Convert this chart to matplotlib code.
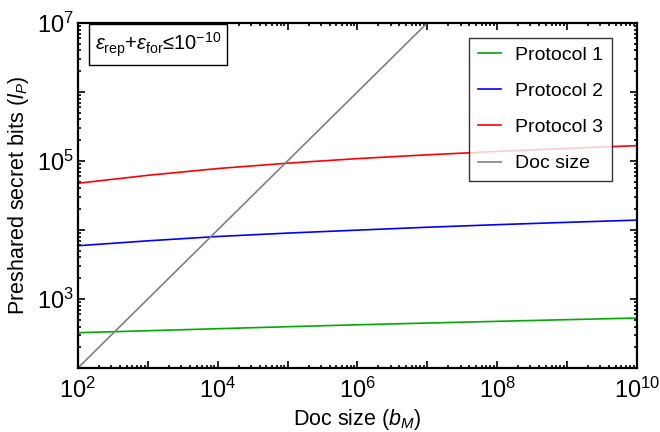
import matplotlib
matplotlib.use("Agg")
import matplotlib.pyplot as plt
from matplotlib.ticker import LogLocator, FixedLocator, NullFormatter, FixedFormatter
import numpy as np

plt.rcParams['font.family'] = ['Liberation Sans', 'DejaVu Sans']
plt.rcParams['mathtext.fontset'] = 'custom'
plt.rcParams['mathtext.rm'] = 'Liberation Sans'
plt.rcParams['mathtext.it'] = 'Liberation Sans:italic'
plt.rcParams['mathtext.sf'] = 'Liberation Sans'

# Data
doc_size = [1e2, 1e3, 1e4, 1e5, 1e6, 1e7, 1e8, 1e9, 1e10]
log_protocol1 = [2.512, 2.541, 2.570, 2.599, 2.627, 2.652, 2.677, 2.701, 2.725]
log_protocol2 = [3.772, 3.843, 3.906, 3.955, 3.998, 4.040, 4.077, 4.111, 4.143]
log_protocol3 = [4.677, 4.792, 4.890, 4.968, 5.034, 5.089, 5.138, 5.182, 5.222]
protocol1 = [10 ** v for v in log_protocol1]
protocol2 = [10 ** v for v in log_protocol2]
protocol3 = [10 ** v for v in log_protocol3]
doc_line = doc_size  # y = doc size

x_tick_labels = ['$10^{2}$', '', '$10^{4}$', '', '$10^{6}$', '', '$10^{8}$', '', '$10^{10}$']
y_tick_labels = ['', '$10^{3}$', '', '$10^{5}$', '', '$10^{7}$']

fig = plt.figure(figsize=(6.6, 4.32), dpi=100)
ax = fig.add_axes([0.118, 0.148, 0.847, 0.799])

ax.plot(doc_size, protocol1, color='#00aa00', lw=1.2, label='Protocol 1')
ax.plot(doc_size, protocol2, color='#0000ff', lw=1.2, label='Protocol 2')
ax.plot(doc_size, protocol3, color='#ff0000', lw=1.2, label='Protocol 3')
ax.plot(doc_size, doc_line, color='#808080', lw=1.2, label='Doc size')

ax.set_xscale('log')
ax.set_yscale('log')
ax.set_xlim(1e2, 1e10)
ax.set_ylim(1e2, 1e7)

ax.xaxis.set_major_locator(FixedLocator([10.0 ** k for k in range(2, 11)]))
ax.xaxis.set_major_formatter(FixedFormatter(x_tick_labels))
ax.yaxis.set_major_locator(FixedLocator([10.0 ** k for k in range(2, 8)]))
ax.yaxis.set_major_formatter(FixedFormatter(y_tick_labels))
ax.xaxis.set_minor_locator(LogLocator(base=10, subs=np.arange(2, 10), numticks=100))
ax.yaxis.set_minor_locator(LogLocator(base=10, subs=np.arange(2, 10), numticks=100))
ax.xaxis.set_minor_formatter(NullFormatter())
ax.yaxis.set_minor_formatter(NullFormatter())

ax.tick_params(which='both', direction='in', top=True, right=True, labelsize=17, width=1.2)
ax.tick_params(which='major', length=5)
ax.tick_params(which='minor', length=2.5)
ax.tick_params(axis='x', pad=7)
ax.tick_params(axis='y', pad=3)
for s in ax.spines.values():
    s.set_linewidth(1.6)

ax.set_xlabel('Doc size ($b_M$)', fontsize=15.5, labelpad=3)
ax.set_ylabel('Preshared secret bits ($l_P$)', fontsize=15.5, labelpad=4)

leg = ax.legend(loc='upper right', bbox_to_anchor=(0.955, 0.957), borderaxespad=0,
                fontsize=14, frameon=True, fancybox=False, edgecolor='black',
                handlelength=1.2, labelspacing=0.95, borderpad=0.45, handletextpad=0.7)
leg.get_frame().set_linewidth(1.0)

ax.text(0.0304, 0.979, r'$\varepsilon_{\mathrm{rep}}$+$\varepsilon_{\mathrm{for}}$≤10$^{-10}$',
        transform=ax.transAxes, fontsize=14.5, va='top', ha='left',
        bbox=dict(boxstyle='square,pad=0.3', facecolor='white', edgecolor='black', linewidth=1.0))

fig.savefig('out.png', dpi=100)
